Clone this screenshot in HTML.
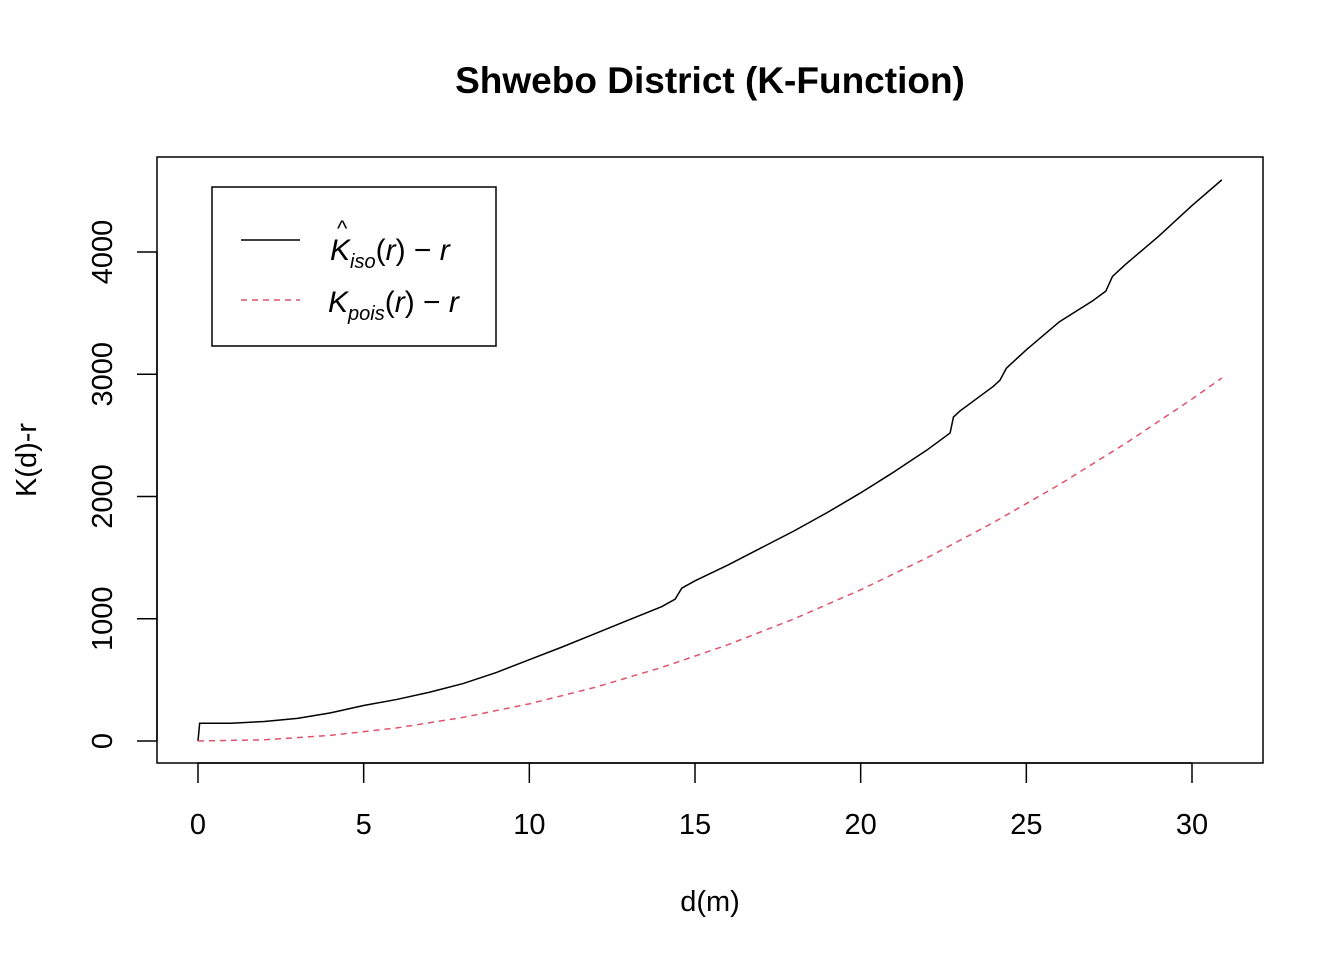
<!DOCTYPE html>
<html><head><meta charset="utf-8"><style>
body{margin:0;background:#fff;}
svg text{font-family:"Liberation Sans",Arial,sans-serif;}
</style></head><body>
<svg id="chart" width="1344" height="960" xmlns="http://www.w3.org/2000/svg">
<rect width="1344" height="960" fill="#fff"/>
<text x="710" y="93" text-anchor="middle" font-size="37" font-weight="bold">Shwebo District (K-Function)</text>
<rect x="157" y="157" width="1106" height="606" fill="none" stroke="#000" stroke-width="1.5"/>
<g id="xaxis"></g>
<g id="yaxis"></g>
<text x="710" y="911" text-anchor="middle" font-size="29">d(m)</text>
<text transform="translate(36,460) rotate(-90)" text-anchor="middle" font-size="29">K(d)-r</text>
<g id="series"></g>
<g>
<rect x="212" y="187" width="284" height="159" fill="#fff" stroke="#000" stroke-width="1.5"/>
<line x1="241" y1="240" x2="300" y2="240" stroke="#000" stroke-width="1.5"/>
<line x1="241" y1="300" x2="300" y2="300" stroke="#DF536B" stroke-width="1.5" stroke-dasharray="6,5"/>
<text x="330" y="260" font-size="30" font-family="Liberation Serif"><tspan font-style="italic">K</tspan><tspan font-size="20" font-style="italic" dy="8">iso</tspan><tspan dy="-8">(</tspan><tspan font-style="italic">r</tspan>) − <tspan font-style="italic">r</tspan></text>
<text x="337" y="236" font-size="22" font-family="Liberation Serif">^</text>
<text x="328" y="312" font-size="30" font-family="Liberation Serif"><tspan font-style="italic">K</tspan><tspan font-size="20" font-style="italic" dy="8">pois</tspan><tspan dy="-8">(</tspan><tspan font-style="italic">r</tspan>) − <tspan font-style="italic">r</tspan></text>
</g>
</svg>
<script>
const xTicks=[0,5,10,15,20,25,30];
const yTicks=[0,1000,2000,3000,4000];
const isoR=[0,0.05,1,2,3,4,5,6,7,8,9,10,11,12,13,14,14.4,14.6,15,16,17,18,19,20,21,22,22.7,22.8,23,24,24.2,24.4,25,26,27,27.4,27.6,28,29,30,30.9];
const isoK=[0,145,145,160,185,230,290,340,400,470,560,665,770,880,990,1100,1160,1250,1310,1440,1580,1720,1870,2030,2200,2380,2520,2650,2700,2900,2950,3050,3200,3430,3600,3680,3800,3900,4130,4380,4590];
const poisR=[0,2,4,6,8,10,12,14,16,18,20,22,24,26,28,30,30.9];
const poisK=[0,10,46,107,193,304,440,602,788,1000,1237,1498,1786,2098,2435,2797,2969];
const X=v=>198+v*(1192-198)/30, Y=v=>741-v*(741-252)/4000;
const ns="http://www.w3.org/2000/svg";
const svg=document.getElementById('chart');
function mk(t,a,p){const e=document.createElementNS(ns,t);for(const k in a)e.setAttribute(k,a[k]);p.appendChild(e);return e;}
const xa=document.getElementById('xaxis'),ya=document.getElementById('yaxis');
mk('line',{x1:X(0),x2:X(30),y1:763,y2:763,stroke:'#000','stroke-width':1.5},xa);
xTicks.forEach(t=>{mk('line',{x1:X(t),x2:X(t),y1:763,y2:783,stroke:'#000','stroke-width':1.5},xa);
const tx=mk('text',{x:X(t),y:834,'text-anchor':'middle','font-size':29},xa);tx.textContent=t;

});
mk('line',{x1:157,x2:157,y1:Y(0),y2:Y(4000),stroke:'#000','stroke-width':1.5},ya);
yTicks.forEach(t=>{mk('line',{x1:137,x2:157,y1:Y(t),y2:Y(t),stroke:'#000','stroke-width':1.5},ya);
const tx=mk('text',{transform:`translate(112,${Y(t)}) rotate(-90)`,'text-anchor':'middle','font-size':29},ya);tx.textContent=t;

});
const s=document.getElementById('series');
const l1=mk('polyline',{points:isoR.map((r,i)=>X(r)+','+Y(isoK[i])).join(' '),fill:'none',stroke:'#000','stroke-width':1.5},s);


const l2=mk('polyline',{points:poisR.map((r,i)=>X(r)+','+Y(poisK[i])).join(' '),fill:'none',stroke:'#DF536B','stroke-width':1.5,'stroke-dasharray':'6,5'},s);


</script>
</body></html>
